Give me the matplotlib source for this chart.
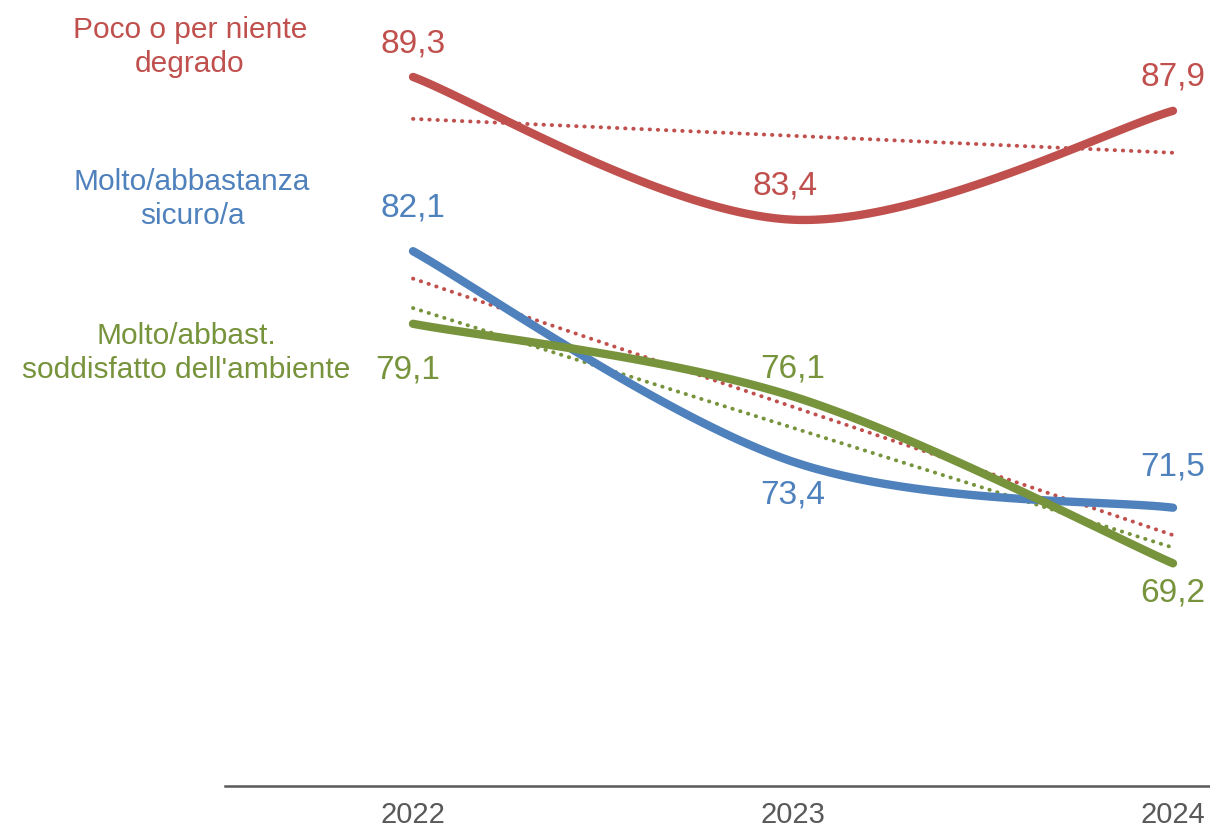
import numpy as np
import matplotlib
matplotlib.use('Agg')
import matplotlib.pyplot as plt

years = [2022, 2023, 2024]
degrado = [89.3, 83.4, 87.9]
sicuro = [82.1, 73.4, 71.5]
ambiente = [79.1, 76.1, 69.2]

names = ['Poco o per niente\ndegrado',
         'Molto/abbastanza\nsicuro/a',
         "Molto/abbast.\nsoddisfatto dell'ambiente"]

RED = '#C0504D'
BLUE = '#4F81BD'
GREEN = '#77933C'
GREY = '#595959'

plt.rcParams['font.family'] = ['Liberation Sans', 'DejaVu Sans']


def smooth(xs, ys, n=60):
    # excel-like bezier smoothing through the points
    xs = np.asarray(xs, float)
    ys = np.asarray(ys, float)
    px, py = [], []
    m = len(xs)
    for i in range(m - 1):
        i0 = max(i - 1, 0)
        i3 = min(i + 2, m - 1)
        c1x = xs[i] + (xs[i + 1] - xs[i0]) / 6
        c1y = ys[i] + (ys[i + 1] - ys[i0]) / 6
        c2x = xs[i + 1] - (xs[i3] - xs[i]) / 6
        c2y = ys[i + 1] - (ys[i3] - ys[i]) / 6
        t = np.linspace(0, 1, n)
        bx = (1 - t) ** 3 * xs[i] + 3 * (1 - t) ** 2 * t * c1x + 3 * (1 - t) * t ** 2 * c2x + t ** 3 * xs[i + 1]
        by = (1 - t) ** 3 * ys[i] + 3 * (1 - t) ** 2 * t * c1y + 3 * (1 - t) * t ** 2 * c2y + t ** 3 * ys[i + 1]
        px.extend(bx)
        py.extend(by)
    return px, py


fig = plt.figure(figsize=(12.1, 8.34), dpi=100)
ax = fig.add_axes([225 / 1210, 1 - 786 / 834, 1 - 225 / 1210, 786 / 834])

series = [(degrado, RED, RED), (sicuro, BLUE, RED), (ambiente, GREEN, GREEN)]
for vals, col, tcol in series:
    sx, sy = smooth(years, vals)
    ax.plot(sx, sy, color=col, lw=6, solid_capstyle='round', zorder=3)
    k, b = np.polyfit(years, vals, 1)
    tx = np.array([years[0], years[-1]])
    ax.plot(tx, k * tx + b, color=tcol, lw=2.8, linestyle=(0, (0.1, 2.0)),
            dash_capstyle='round', zorder=2)

# value labels (offsets in points)
offsets = {
    'degrado': [(0, 24), (-6, 24), (0, 24)],
    'sicuro': [(0, 31), (0, -24), (0, 29)],
    'ambiente': [(-4, -33), (0, 20), (0, -21)],
}
for key, vals, col in [('degrado', degrado, RED), ('sicuro', sicuro, BLUE), ('ambiente', ambiente, GREEN)]:
    for x, v, off in zip(years, vals, offsets[key]):
        ax.annotate(f'{v:.1f}'.replace('.', ','), (x, v), xytext=off,
                    textcoords='offset points', ha='center', va='center',
                    fontsize=24, color=col)

for name, col, (cx, cy) in zip(names, [RED, BLUE, GREEN], [(190, 47), (192, 199), (186, 353)]):
    fig.text(cx / 1210, 1 - cy / 834, name, ha='center', va='center',
             fontsize=21.5, color=col, linespacing=1.3)

ax.set_xlim(2022 - 188 / 380, 2024 + 37 / 380)
ax.set_ylim(60, 60 + 786 / 24.2)
ax.set_xticks(years)
ax.set_xticklabels([str(y) for y in years])
ax.set_yticks([])
for s in ['top', 'right', 'left']:
    ax.spines[s].set_visible(False)
ax.spines['bottom'].set_color(GREY)
ax.spines['bottom'].set_linewidth(1.8)
ax.tick_params(axis='x', length=0, pad=11, labelsize=21, labelcolor=GREY)

fig.savefig('out.png', dpi=100)
